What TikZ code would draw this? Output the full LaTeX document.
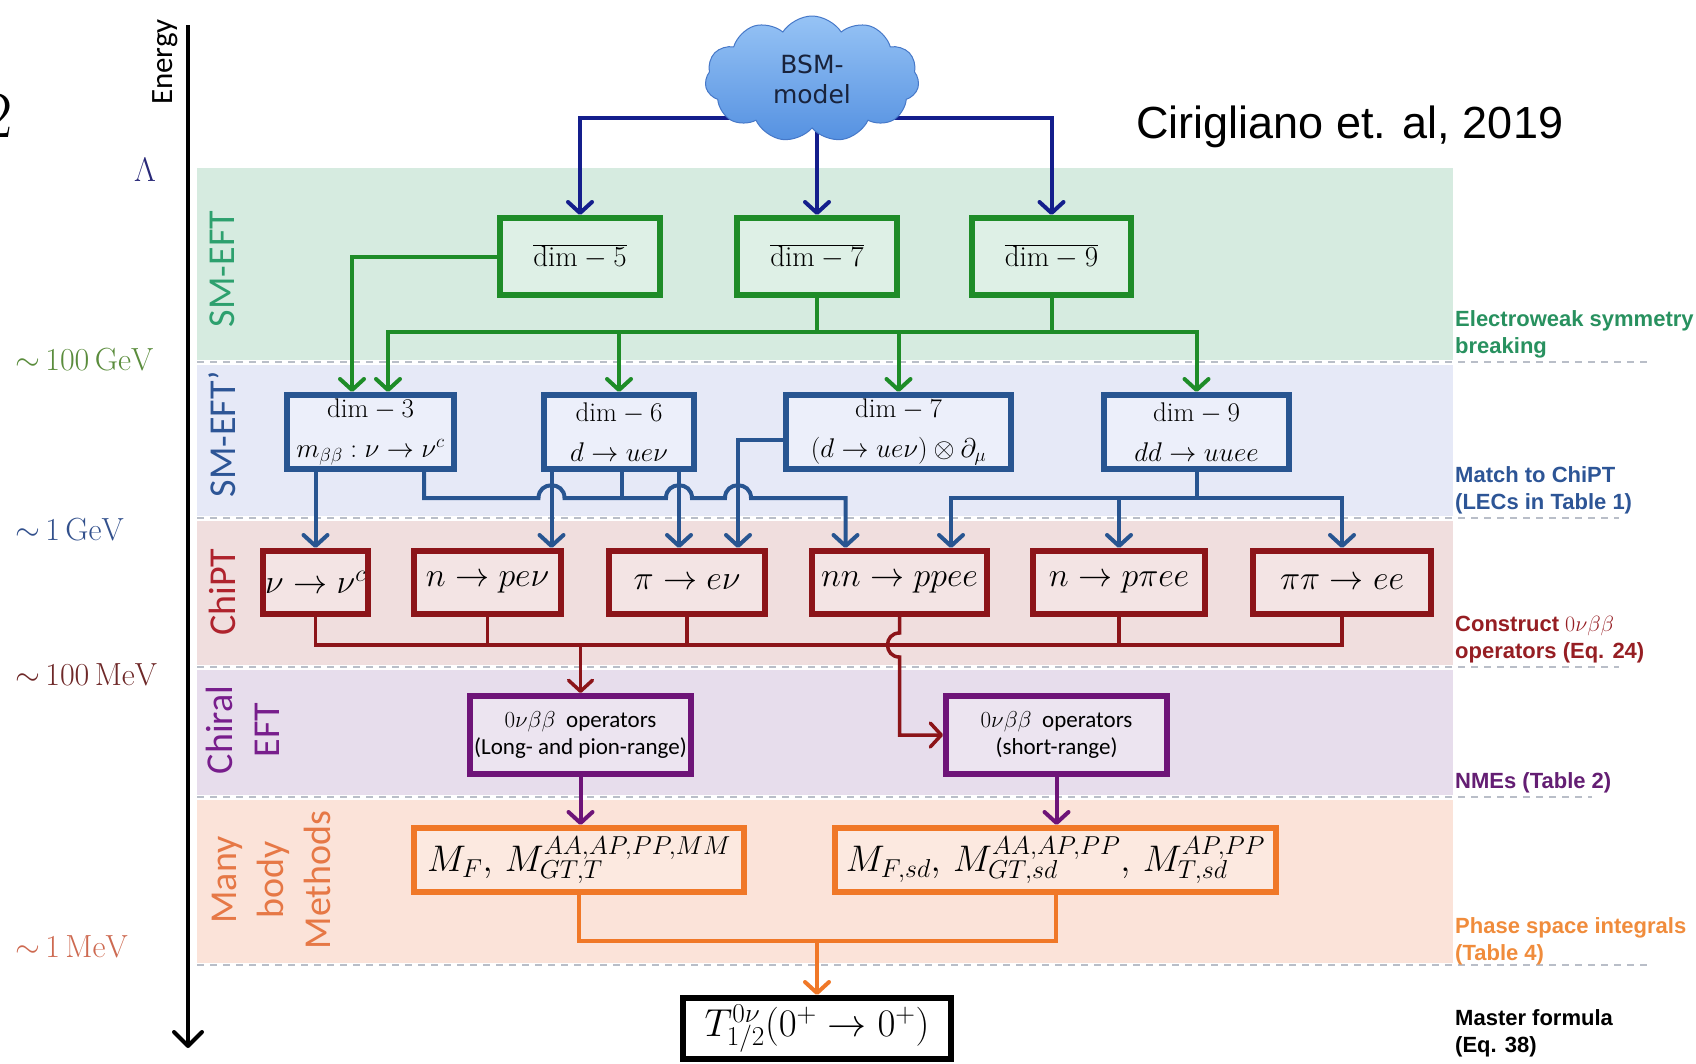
\documentclass[tikz,border=0pt]{standalone}
\usepackage{fix-cm}
\usepackage{fontspec}
\newfontfamily\carlito{Carlito}
\newfontfamily\arialfont{Liberation Sans}
\newfontfamily\dejavu{DejaVu Sans}
\usetikzlibrary{arrows.meta,shapes.symbols,calc}

\definecolor{bandgreen}{RGB}{214,235,224}
\definecolor{bandblue}{RGB}{230,233,247}
\definecolor{bandred}{RGB}{240,222,222}
\definecolor{bandpurple}{RGB}{231,221,236}
\definecolor{bandorange}{RGB}{251,227,217}
\definecolor{boxgreen}{RGB}{222,240,230}
\definecolor{boxblue}{RGB}{236,239,250}
\definecolor{boxred}{RGB}{243,228,228}
\definecolor{boxpurple}{RGB}{236,228,240}
\definecolor{boxorange}{RGB}{252,233,224}
\definecolor{smgreen}{RGB}{30,140,40}
\definecolor{smblue}{RGB}{40,85,145}
\definecolor{bsmnavy}{RGB}{20,30,140}
\definecolor{chired}{RGB}{140,20,25}
\definecolor{chipurple}{RGB}{110,20,120}
\definecolor{mborange}{RGB}{240,120,40}
\definecolor{sepgray}{RGB}{185,190,200}
\definecolor{lvlgreen}{RGB}{90,140,60}
\definecolor{lvlblue}{RGB}{50,80,140}
\definecolor{lvlred}{RGB}{110,40,40}
\definecolor{lvlorange}{RGB}{205,105,80}
\definecolor{namegreen}{RGB}{45,160,110}
\definecolor{nameblue}{RGB}{45,85,150}
\definecolor{namered}{RGB}{175,35,45}
\definecolor{namepurple}{RGB}{120,30,140}
\definecolor{nameorange}{RGB}{230,120,70}
\definecolor{notegreen}{RGB}{40,145,95}
\definecolor{noteblue}{RGB}{45,85,150}
\definecolor{notered}{RGB}{150,30,35}
\definecolor{notepurple}{RGB}{100,30,115}
\definecolor{noteorange}{RGB}{240,140,60}
\definecolor{lambdanavy}{RGB}{40,40,120}
\definecolor{cloudtop}{RGB}{150,195,245}
\definecolor{cloudbot}{RGB}{85,145,225}
\definecolor{cloudedge}{RGB}{70,120,200}
\definecolor{cloudtext}{RGB}{25,35,60}

\pgfdeclarelayer{back}
\pgfdeclarelayer{wires}
\pgfsetlayers{back,wires,main}

\begin{document}
\begin{tikzpicture}[x=1pt, y=-1pt,
  tip/.style={-{Straight Barb[length=11pt,width=24pt,round]}},
  gwire/.style={draw=smgreen, line width=4pt},
  bwire/.style={draw=smblue, line width=4pt},
  navywire/.style={draw=bsmnavy, line width=4pt},
  rwire/.style={draw=chired, line width=3.5pt},
  pwire/.style={draw=chipurple, line width=4pt},
  owire/.style={draw=mborange, line width=4pt},
  greenbox/.style={draw=smgreen, fill=boxgreen, line width=6pt, inner sep=2pt, minimum height=77pt, font=\fontsize{29}{34}\selectfont},
  bluebox/.style={draw=smblue, fill=boxblue, line width=6pt, inner sep=2pt, minimum height=74pt, align=center, font=\fontsize{27}{40}\selectfont},
  redbox/.style={draw=chired, fill=boxred, line width=6pt, inner sep=2pt, minimum height=63pt, font=\fontsize{34}{38}\selectfont},
  purplebox/.style={draw=chipurple, fill=boxpurple, line width=6pt, inner sep=2pt, minimum width=221pt, minimum height=78pt, align=center, font=\carlito\fontsize{23}{27}\selectfont},
  orangebox/.style={draw=mborange, fill=boxorange, line width=6pt, inner sep=2pt, minimum height=64pt, font=\fontsize{37}{42}\selectfont},
  level/.style={anchor=west, inner sep=0pt, font=\fontsize{32}{36}\selectfont},
  bandname/.style={rotate=90, align=center, inner sep=0pt, font=\carlito\fontsize{38}{47}\selectfont},
  note/.style={anchor=west, align=left, inner sep=0pt, font=\arialfont\bfseries\fontsize{22}{27}\selectfont}]

\useasboundingbox (0,0) rectangle (1696,1063);

% Energy bands
\begin{pgfonlayer}{back}
  \fill[bandgreen] (197,168) rectangle (1453,362);
  \fill[bandblue] (197,362) rectangle (1453,518);
  \fill[bandred] (197,518) rectangle (1453,667);
  \fill[bandpurple] (197,667) rectangle (1453,797);
  \fill[bandorange] (197,797) rectangle (1453,965);
  % scale separators
  \foreach \y/\xe in {362/1653, 518/1619, 667/1619, 797/1592, 965/1653} {
    \draw[white, line width=5pt] (197,\y) -- (\xe,\y);
    \draw[sepgray, line width=2pt, dash pattern=on 7pt off 6pt] (197,\y) -- (\xe,\y);
  }
\end{pgfonlayer}

% Energy axis
\node[anchor=base east, inner sep=0pt, font=\fontsize{66}{66}\selectfont] (cut) at (13,137) {2};
\coordinate (etop) at (188,25);
\coordinate (ebot) at (188,1048);
\draw[line width=4pt, -{Straight Barb[length=14pt,width=28pt,round]}] (etop) -- (ebot);
\node[rotate=90, font=\carlito\fontsize{31}{36}\selectfont] (energy) at (165,62) {Energy};
\node[text=lambdanavy, font=\fontsize{34}{38}\selectfont] (lam) at (145,170) {$\Lambda$};
\node[level, text=lvlgreen] (gev100) at (15,360) {${\sim}\,100\,\mathrm{GeV}$};
\node[level, text=lvlblue] (gev1) at (15,530) {${\sim}\,1\,\mathrm{GeV}$};
\node[level, text=lvlred] (mev100) at (15,675) {${\sim}\,100\,\mathrm{MeV}$};
\node[level, text=lvlorange] (mev1) at (15,947) {${\sim}\,1\,\mathrm{MeV}$};

% Band names
\node[bandname, text=namegreen] (smeft) at (222,269) {SM-EFT};
\node[bandname, text=nameblue] (smeftp) at (222,434) {SM-EFT’};
\node[bandname, text=namered] (chipt) at (222,592) {ChiPT};
\node[bandname, text=namepurple] (chieft) at (243,730) {Chiral\\EFT};
\node[bandname, text=nameorange] (manybody) at (271,880) {Many\\body\\Methods};

% Notes on the right
\node[note, text=notegreen] (ewsb) at (1455,334) {Electroweak symmetry\\breaking};
\node[note, text=noteblue] (match) at (1455,490) {Match to ChiPT\\(LECs in Table 1)};
\node[note, text=notered] (construct) at (1455,640) {Construct $0\nu\beta\beta$\\operators (Eq. 24)};
\node[note, text=notepurple] (nmes) at (1455,783) {NMEs (Table 2)};
\node[note, text=noteorange] (phase) at (1455,941) {Phase space integrals\\(Table 4)};
\node[note, text=black] (masterf) at (1455,1033) {Master formula\\(Eq. 38)};

\node[anchor=west, inner sep=0pt, font=\arialfont\fontsize{45}{50}\selectfont] (cite) at (1136,127) {Cirigliano et. al, 2019};

% BSM model
\node[cloud, cloud puffs=11, cloud puff arc=115, aspect=1.7, minimum width=214pt, minimum height=126pt,
  draw=cloudedge, line width=1pt, top color=cloudtop, bottom color=cloudbot, align=center, inner sep=0pt,
  text=cloudtext, font=\dejavu\fontsize{25}{30}\selectfont] (bsm) at (812,79) {BSM-\\model};

% SM-EFT
\node[greenbox, minimum width=160pt] (dfive) at (580,256.5) {$\overline{\mathrm{dim}-5}$};
\node[greenbox, minimum width=160pt] (dseven) at (817,256.5) {$\overline{\mathrm{dim}-7}$};
\node[greenbox, minimum width=159pt] (dnine) at (1051.5,256.5) {$\overline{\mathrm{dim}-9}$};

% SM-EFT'
\node[bluebox, minimum width=167pt] (dthree) at (370.5,432) {$\mathrm{dim}-3$\\$m_{\beta\beta}:\nu\to\nu^c$};
\node[bluebox, minimum width=150pt] (dsix) at (619,432) {$\mathrm{dim}-6$\\$d\to ue\nu$};
\node[bluebox, minimum width=225pt] (dsevenp) at (898.5,432) {$\mathrm{dim}-7$\\$(d\to ue\nu)\otimes\partial_\mu$};
\node[bluebox, minimum width=185pt] (dninep) at (1196.5,432) {$\mathrm{dim}-9$\\$dd\to uuee$};

% ChiPT
\node[redbox, minimum width=105pt] (nunu) at (315.5,582.5) {$\nu\to\nu^c$};
\node[redbox, minimum width=147pt] (npenu) at (487.5,582.5) {$n\to pe\nu$};
\node[redbox, minimum width=156pt] (pienu) at (687,582.5) {$\pi\to e\nu$};
\node[redbox, minimum width=175pt] (nnppee) at (899.5,582.5) {$nn\to ppee$};
\node[redbox, minimum width=172pt] (npiee) at (1119,582.5) {$n\to p\pi ee$};
\node[redbox, minimum width=178pt] (pipiee) at (1342,582.5) {$\pi\pi\to ee$};

% Chiral EFT
\node[purplebox] (longop) at (580.5,735) {$0\nu\beta\beta$\ \ operators\\(Long- and pion-range)};
\node[purplebox] (shortop) at (1056.5,735) {$0\nu\beta\beta$\ \ operators\\(short-range)};

% Many body methods
\node[orangebox, minimum width=330pt] (mbleft) at (579,860) {$M_F,\,M_{GT,T}^{AA,AP,PP,MM}$};
\node[orangebox, minimum width=441pt] (mbright) at (1055.5,860) {$M_{F,sd},\,M_{GT,sd}^{AA,AP,PP},\,M_{T,sd}^{AP,PP}$};

% Master formula
\node[draw=black, fill=white, line width=6pt, inner sep=2pt, minimum width=268pt, minimum height=61pt,
  font=\fontsize{39}{44}\selectfont] (master) at (817,1028.5) {$T_{1/2}^{0\nu}(0^+\to0^+)$};

\begin{pgfonlayer}{wires}
  % BSM to SM-EFT
  \coordinate (bsmbus) at (812,118);
  \draw[navywire, tip] (bsmbus) -| (dfive.north);
  \draw[navywire, tip] (bsmbus) -| (dnine.north);
  \draw[navywire, tip] (bsm.center -| dseven.north) -- (dseven.north);

  % SM-EFT to SM-EFT'
  \coordinate (gbus) at (0,332);
  \draw[gwire, tip] (dfive.west) -| ([xshift=-18.5pt]dthree.north);
  \draw[gwire] (dseven.south) -- (dseven.south |- gbus);
  \draw[gwire] (dnine.south) -- (dnine.south |- gbus);
  \draw[gwire, line cap=rect] ([xshift=17.5pt]dthree.north |- gbus) -- (dninep.north |- gbus);
  \draw[gwire, tip] ([xshift=17.5pt]dthree.north |- gbus) -- ([xshift=17.5pt]dthree.north);
  \foreach \t in {dsix, dsevenp, dninep}
    \draw[gwire, tip] (\t.north |- gbus) -- (\t.north);

  % SM-EFT' to ChiPT
  \coordinate (bbus) at (0,498);
  \coordinate (dropA) at ([xshift=64pt]npenu.north);
  \coordinate (dropB) at ([xshift=-8pt]pienu.north);
  \coordinate (dropC) at ([xshift=51pt]pienu.north);
  \coordinate (dropD) at ([xshift=-54pt]nnppee.north);
  \coordinate (dropE) at ([xshift=51.5pt]nnppee.north);
  \draw[bwire, tip] (dthree.south -| nunu.north) -- (nunu.north);
  \draw[bwire, tip] ([xshift=53.5pt]dthree.south) |- ($(dropA |- bbus)+(-13,0)$)
    .. controls +(0,-17) and +(0,-17) .. ++(26,0) -- ($(dropB |- bbus)+(-13,0)$)
    .. controls +(0,-17) and +(0,-17) .. ++(26,0) -- ($(dropC |- bbus)+(-13,0)$)
    .. controls +(0,-17) and +(0,-17) .. ++(26,0) -| (dropD);
  \draw[bwire, tip] (dsix.south -| dropA) -- (dropA);
  \draw[bwire, tip] (dsix.south -| dropB) -- (dropB);
  \draw[bwire] ([xshift=3pt]dsix.south) -- ([xshift=3pt]dsix.south |- bbus);
  \draw[bwire, tip] ([yshift=-8pt]dsevenp.west) -| (dropC);
  \draw[bwire] (dninep.south) -- (dninep.south |- bbus);
  \draw[bwire, line cap=rect] (dropE |- bbus) -- (pipiee.north |- bbus);
  \foreach \t in {dropE, npiee.north, pipiee.north}
    \draw[bwire, tip] (\t |- bbus) -- (\t);

  % ChiPT to chiral EFT
  \coordinate (rbus) at (0,645);
  \foreach \t in {nunu, npenu, pienu, npiee, pipiee}
    \draw[rwire] (\t.south) -- (\t.south |- rbus);
  \draw[rwire, line cap=rect] (nunu.south |- rbus) -- (pipiee.south |- rbus);
  \draw[rwire, tip] (longop.north |- rbus) -- (longop.north);
  \draw[rwire, tip] (nnppee.south) -- ($(nnppee.south |- rbus)+(0,-12)$)
    .. controls +(-16,0) and +(-16,0) .. ++(0,24) -- (nnppee.south |- shortop.west) -- (shortop.west);

  % Chiral EFT to many body
  \draw[pwire, tip] (longop.south) -- (longop.south |- mbleft.north);
  \draw[pwire, tip] (shortop.south) -- (shortop.south |- mbright.north);

  % Many body to master formula
  \coordinate (obus) at (0,941);
  \draw[owire] (mbleft.south) |- (mbright.south |- obus) -- (mbright.south);
  \draw[owire, tip] (master.north |- obus) -- (master.north);
\end{pgfonlayer}
\end{tikzpicture}
\end{document}
